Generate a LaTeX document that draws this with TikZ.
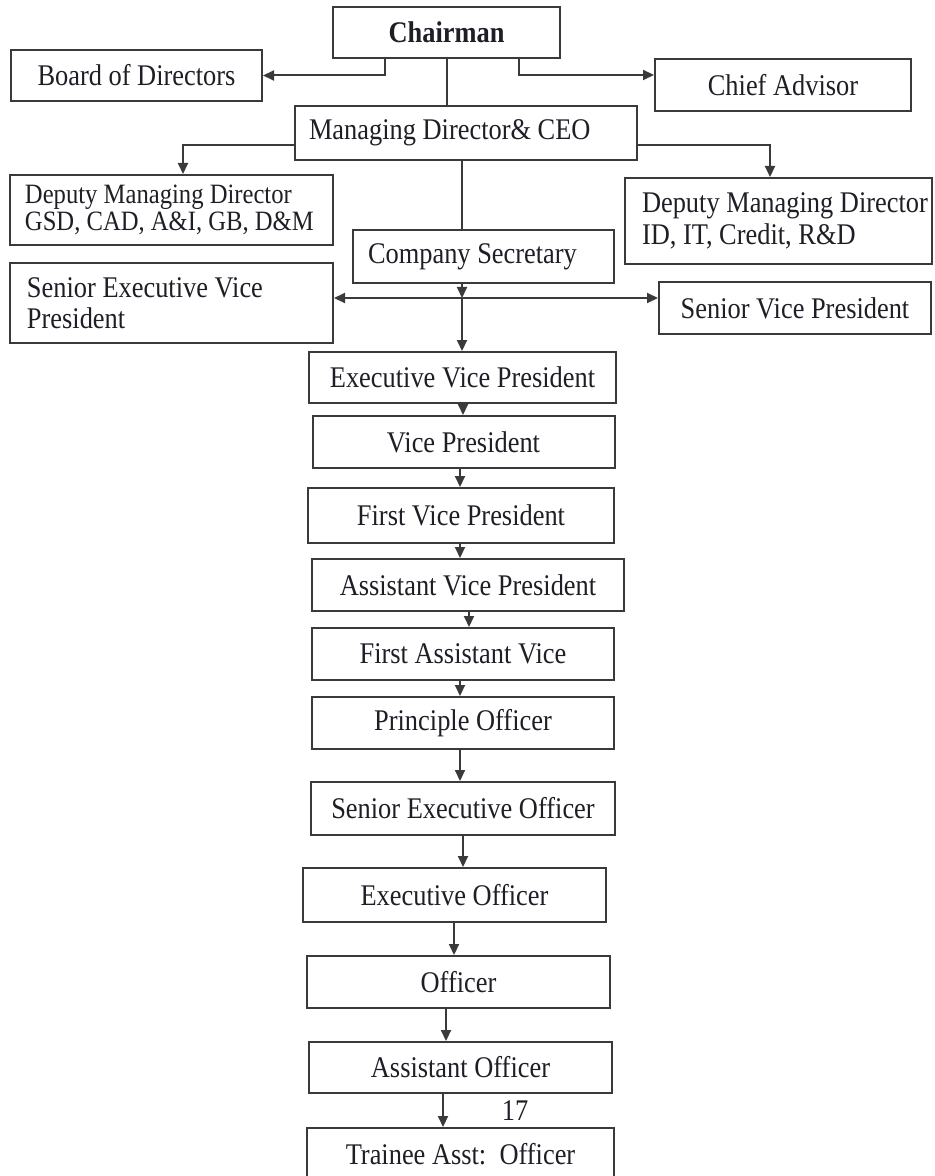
\documentclass[tikz,border=0pt]{standalone}
\usepackage{fontspec}
\setmainfont{Liberation Serif}[FakeStretch=0.88]
\usetikzlibrary{arrows.meta}
\definecolor{chartink}{HTML}{1E1E26}
\definecolor{chartline}{HTML}{3A3A3A}

\begin{document}
\begin{tikzpicture}[
  x=0.5pt,
  y=-0.5pt,
  every node/.style={font=\fontsize{15pt}{16pt}\selectfont, text=chartink},
  post/.style 2 args={draw=chartline, line width=1pt, inner sep=0pt,
    minimum width=#1, minimum height=#2},
  flush/.style={align=flush left, inner xsep=0pt, text width=#1},
  wire/.style={chartline, line width=1pt},
  arr/.style={chartline, line width=1pt, -{Triangle[length=5.5pt, width=5pt]}}
]
  % ---- page frame (the trainee box runs off the bottom edge) -------------
  \useasboundingbox (0,0) rectangle (935,1176);
  \clip (0,0) rectangle (935,1176);

  % ---- top level -------------------------------------------------------
  \node[post={113.5pt}{25.5pt}] (chair) at (446.5,32.5) {\textbf{Chairman}};
  \node[post={125.5pt}{25.5pt}] (board) at (136.5,75.5) {Board of Directors};
  \node[post={128pt}{26pt}] (advisor) at (783,85) {Chief Advisor};
  \node[post={171pt}{27pt}, flush=171pt] (md) at (466,133)
    {\hspace*{7pt}Managing Director\& CEO};

  % ---- deputies, secretary and the senior ranks --------------------------
  \node[post={161.5pt}{35pt}, flush=161.5pt,
    font=\fontsize{14pt}{13.5pt}\selectfont] (dmdl) at (171.5,210)
    {\hspace*{7.5pt}Deputy Managing Director\\
     \hspace*{7.5pt}GSD, CAD, A\&I, GB, D\&M};
  \node[post={153.5pt}{43pt}, flush=153.5pt] (dmdr) at (778.5,221)
    {\hspace*{8.5pt}Deputy Managing Director\\
     \hspace*{8.5pt}ID, IT, Credit, R\&D};
  \node[post={130.5pt}{26.5pt}, flush=130.5pt] (cs) at (483.5,256.5)
    {\hspace*{7.5pt}Company Secretary};
  \node[post={161.5pt}{40pt}, flush=161.5pt,
    font=\fontsize{15pt}{15.5pt}\selectfont] (sevp) at (171.5,303)
    {\hspace*{8.5pt}Senior Executive Vice\\
     \hspace*{8.5pt}President};
  \node[post={136pt}{26pt}] (svp) at (795,308) {Senior Vice President};

  % ---- the ladder ------------------------------------------------------
  \node[post={153.5pt}{25.5pt}] (evp) at (462.5,377.5) {Executive Vice President};
  \node[post={151pt}{26pt}] (vp) at (463.5,442) {Vice President};
  \node[post={153pt}{27.5pt}] (fvp) at (461,515.5) {First Vice President};
  \node[post={156pt}{26pt}] (avp) at (468,585) {Assistant Vice President};
  \node[post={151pt}{26pt}] (fav) at (463,654) {First Assistant Vice};
  \node[post={151pt}{26pt}] (po) at (463,723) {Principle Officer};
  \node[post={152pt}{26.5pt}] (seo) at (463,808.5) {Senior Executive Officer};
  \node[post={151.5pt}{27pt}] (eo) at (454.5,895) {Executive Officer};
  \node[post={151.5pt}{26pt}] (off) at (458.5,982) {Officer};
  \node[post={151.5pt}{25.5pt}] (ao) at (460.5,1067.5) {Assistant Officer};
  \node[post={153.5pt}{26pt}] (trainee) at (460.5,1154)
    {Trainee Asst:\ \ Officer};
  \node (pageno) at (515,1111) {17};

  % ---- chairman's links ------------------------------------------------
  \draw[arr] ([xshift=-31pt]chair.south) |- (board.east);
  \draw[arr] ([xshift=36pt]chair.south) |- ([yshift=5pt]advisor.west);
  \draw[wire] (chair.south) -- (chair.south |- md.north);

  % ---- managing director's links ---------------------------------------
  \draw[arr] ([yshift=-6pt]md.west) -| ([xshift=5.75pt]dmdl.north);
  \draw[arr] ([yshift=-6pt]md.east) -| ([xshift=-4.25pt]dmdr.north);

  \coordinate (hub) at (462,298);
  \draw[wire] (md.south -| hub) -- (cs.north -| hub);
  \draw[arr] (cs.south -| hub) -- (hub);
  \draw[arr] (hub) -- (hub -| sevp.east);
  \draw[arr] (hub) -- (hub -| svp.west);
  \draw[arr] (hub) -- (evp.north -| hub);

  % ---- one rank to the next --------------------------------------------
  \foreach \upper/\lower/\lx in {evp/vp/463, vp/fvp/460, fvp/avp/460,
      avp/fav/469, fav/po/460, po/seo/460, seo/eo/463, eo/off/454,
      off/ao/446, ao/trainee/443}{
    \coordinate (drop) at (\lx,0);
    \draw[arr] (\upper.south -| drop) -- (\lower.north -| drop);
  }

\end{tikzpicture}
\end{document}
